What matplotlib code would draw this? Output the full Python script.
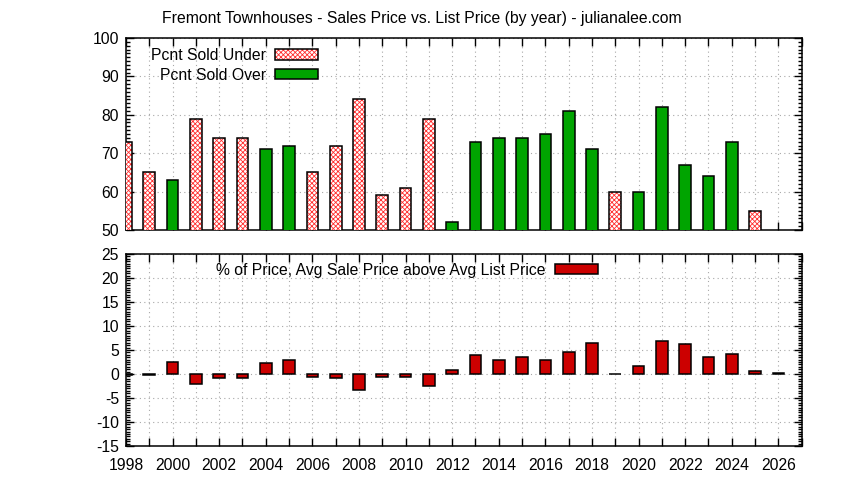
import matplotlib
matplotlib.use("Agg")
import matplotlib.pyplot as plt
import numpy as np
from matplotlib.ticker import MultipleLocator, AutoMinorLocator, FuncFormatter
from matplotlib.patches import Patch
from matplotlib.legend_handler import HandlerTuple

plt.rcParams['font.family'] = ['Liberation Sans', 'DejaVu Sans']
plt.rcParams['hatch.linewidth'] = 0.6
plt.rcParams['axes.unicode_minus'] = False

years = list(range(1998, 2027))
pct_under = [73, 65, None, 79, 74, 74, None, None, 65, 72, 84, 59, 61, 79, None,
             None, None, None, None, None, None, 60, None, None, None, None, None, 55, None]
pct_over = [None, None, 63, None, None, None, 71, 72, None, None, None, None, None, None, 52,
            73, 74, 74, 75, 81, 71, None, 60, 82, 67, 64, 73, None, None]
avg_above = [-0.3, -0.2, 2.5, -2.1, -0.8, -0.8, 2.3, 2.9, -0.6, -0.8, -3.3, -0.6, -0.6, -2.5, 0.8,
             4.0, 2.9, 3.5, 2.9, 4.6, 6.5, 0.05, 1.7, 6.9, 6.25, 3.5, 4.2, 0.6, 0.2]

title = "Fremont Townhouses - Sales Price vs. List Price (by year) - julianalee.com"
lbl_under = "Pcnt Sold Under"
lbl_over = "Pcnt Sold Over"
lbl_avg = "% of Price, Avg Sale Price above Avg List Price"

GREEN = "#00a400"
DRED = "#cc0000"
HRED = "#ff3030"
FS = 11.3
W = 0.5

fig = plt.figure(figsize=(8.44, 4.8), dpi=100)
W_PX, H_PX = 844, 480
def rect(l, t, r, b):
    return [l / W_PX, 1 - b / H_PX, (r - l) / W_PX, (b - t) / H_PX]

ax1 = fig.add_axes(rect(126, 38, 801.7, 230))
ax2 = fig.add_axes(rect(126, 254, 801.7, 446))

uy = [y for y, v in zip(years, pct_under) if v is not None]
uv = [v for v in pct_under if v is not None]
oy = [y for y, v in zip(years, pct_over) if v is not None]
ov = [v for v in pct_over if v is not None]

ax1.bar(uy, uv, width=W, facecolor="white", edgecolor=HRED, hatch="xxxxxxx", linewidth=0, zorder=3)
ax1.bar(uy, uv, width=W, facecolor="none", edgecolor="black", linewidth=1.1, zorder=4)
ax1.bar(oy, ov, width=W, facecolor=GREEN, edgecolor="black", linewidth=1.1, zorder=3)
ax1.set_ylim(50, 100)
ax1.yaxis.set_major_locator(MultipleLocator(10))

ax2.bar(years, avg_above, width=W, facecolor=DRED, edgecolor="black", linewidth=1.1, zorder=3)
ax2.set_ylim(-15, 25)
ax2.yaxis.set_major_locator(MultipleLocator(5))

for ax in (ax1, ax2):
    ax.set_xlim(1998, 2027)
    ax.xaxis.set_major_locator(MultipleLocator(1))
    ax.yaxis.set_minor_locator(AutoMinorLocator(10))
    ax.tick_params(which='both', direction='in', top=True, right=True, labelsize=FS, width=1.0)
    ax.tick_params(which='major', length=5.5)
    ax.tick_params(which='minor', length=2.8)
    ax.tick_params(axis='y', pad=5)
    ax.tick_params(axis='x', pad=9)
    ax.grid(True, which='major', color='#a8a8a8', linestyle=(0, (1, 3)), linewidth=0.8, zorder=0)
    ax.set_axisbelow(True)
    for s in ax.spines.values():
        s.set_linewidth(1.1)

ax1.tick_params(labelbottom=False)
ax2.xaxis.set_major_formatter(FuncFormatter(lambda v, p: f"{int(round(v))}" if int(round(v)) % 2 == 0 else ""))

# legends
h_under = (Patch(facecolor="white", edgecolor=HRED, hatch="xxxxxxx", linewidth=0),
           Patch(facecolor="none", edgecolor="black", linewidth=1.1))
h_over = Patch(facecolor=GREEN, edgecolor="black", linewidth=1.1)
ax1.legend([h_under, h_over], [lbl_under, lbl_over], handler_map={tuple: HandlerTuple(ndivide=1)},
           loc='upper right', bbox_to_anchor=(0.2846, 0.948), borderaxespad=0, borderpad=0,
           frameon=False, markerfirst=False, fontsize=FS, handlelength=2.74, handleheight=0.64,
           handletextpad=0.57, labelspacing=0.3)
h_avg = Patch(facecolor=DRED, edgecolor="black", linewidth=1.1)
ax2.legend([h_avg], [lbl_avg], loc='upper right', bbox_to_anchor=(0.698, 0.955), borderaxespad=0,
           borderpad=0, frameon=False, markerfirst=False, fontsize=FS, handlelength=2.74,
           handleheight=0.64, handletextpad=0.57)

fig.text(0.5, 1 - 18 / H_PX, title, ha='center', va='center', fontsize=FS)

fig.savefig("out.png", dpi=100)
